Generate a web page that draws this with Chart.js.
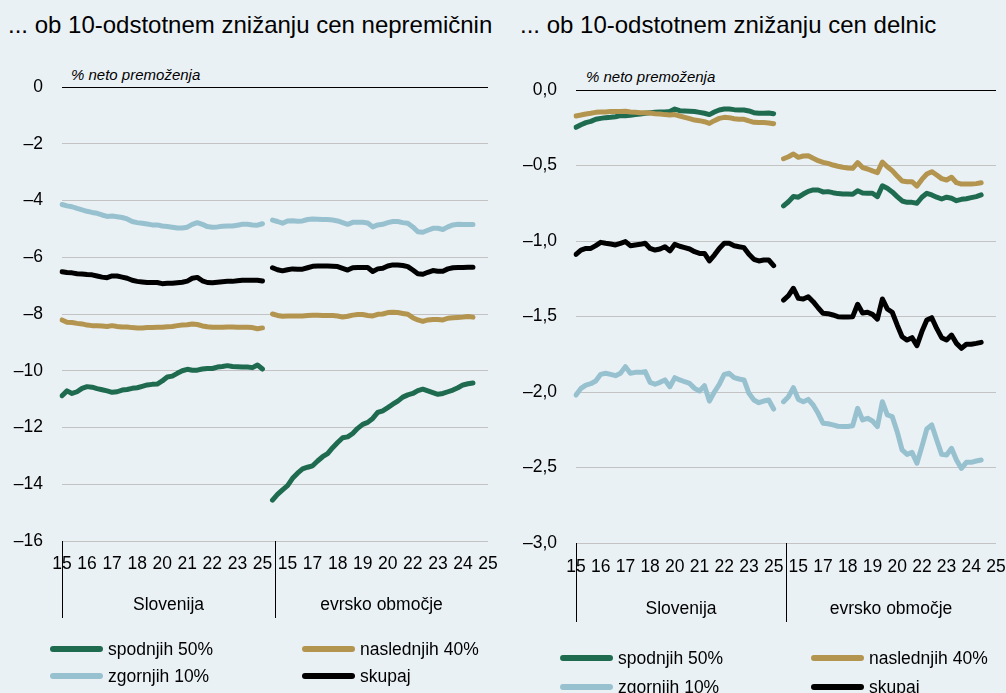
<!DOCTYPE html>
<html lang="sl">
<head>
<meta charset="utf-8">
<title>Učinek znižanja cen na neto premoženje</title>
<script src="https://cdn.jsdelivr.net/npm/chart.js@4.4.1/dist/chart.umd.min.js"></script>
<style>
  html, body { margin: 0; padding: 0; }
  body {
    width: 1006px; height: 693px; position: relative; overflow: hidden;
    background: #eaf1f5; color: #000;
    font-family: "Liberation Sans", Arial, sans-serif;
  }
  .panel { position: absolute; top: 0; }
  .title { position: absolute; top: 11px; font-size: 24px; white-space: nowrap; }
  .unit { position: absolute; font-size: 15px; font-style: italic; white-space: nowrap; }
  .legend-item { position: absolute; height: 22px; display: flex; align-items: center; font-size: 17.5px; white-space: nowrap; }
  .legend-line { width: 53px; height: 6px; border-radius: 3px; margin-right: 5px; }
</style>
</head>
<body>

<div class="title" style="left:8px">... ob 10-odstotnem znižanju cen nepremičnin</div>
<div class="title" style="left:520px">... ob 10-odstotnem znižanju cen delnic</div>
<div class="unit" style="left:71px; top:66px">% neto premoženja</div>
<div class="unit" style="left:586px; top:68px">% neto premoženja</div>

<canvas id="housing-chart" class="panel" style="left:0" width="500" height="640"></canvas>
<canvas id="equity-chart" class="panel" style="left:500px" width="506" height="640"></canvas>

<div id="legend"></div>

<script>
// ---------------------------------------------------------------------------
// Data: quarterly, 2015 Q1 – 2025 Q1, first Slovenia then the euro area.
// Values are % of net wealth.
// ---------------------------------------------------------------------------

const seriesNames = ["spodnjih 50%", "naslednjih 40%", "zgornjih 10%", "skupaj"];
const seriesColors = ["#1f6b50", "#b3954f", "#98c1d0", "#000000"];
const groupNames = ["Slovenija", "evrsko območje"];

// tick labels, one every 5 quarters
const tickLabelsSI = ["15", "16", "17", "18", "20", "21", "22", "23", "25"];
const tickLabelsEA = ["15", "17", "18", "19", "20", "22", "23", "24", "25"];

// --- 10 % fall in house prices ---
const housingSiBottom50 = [-10.88, -10.71, -10.80, -10.74, -10.62, -10.56, -10.58, -10.63, -10.67, -10.71,
  -10.76, -10.74, -10.68, -10.66, -10.62, -10.60, -10.55, -10.50, -10.48, -10.47,
  -10.36, -10.22, -10.19, -10.09, -10.00, -9.95, -9.98, -9.98, -9.94, -9.92,
  -9.92, -9.87, -9.85, -9.82, -9.85, -9.86, -9.87, -9.87, -9.89, -9.80, -9.94];
const housingSiNext40 = [-8.21, -8.29, -8.30, -8.33, -8.35, -8.39, -8.41, -8.41, -8.42, -8.44,
  -8.41, -8.44, -8.46, -8.46, -8.48, -8.49, -8.49, -8.48, -8.48, -8.47,
  -8.47, -8.45, -8.44, -8.41, -8.39, -8.38, -8.35, -8.37, -8.42, -8.45,
  -8.47, -8.47, -8.47, -8.46, -8.46, -8.47, -8.47, -8.47, -8.48, -8.52, -8.49];
const housingSiTop10 = [-4.14, -4.19, -4.22, -4.28, -4.33, -4.38, -4.42, -4.45, -4.51, -4.56,
  -4.55, -4.57, -4.60, -4.65, -4.74, -4.78, -4.80, -4.83, -4.86, -4.86,
  -4.90, -4.92, -4.94, -4.97, -4.97, -4.94, -4.84, -4.78, -4.84, -4.92,
  -4.94, -4.93, -4.91, -4.90, -4.90, -4.87, -4.84, -4.84, -4.86, -4.87, -4.82];
const housingSiTotal = [-6.51, -6.54, -6.55, -6.58, -6.59, -6.61, -6.62, -6.66, -6.70, -6.72,
  -6.66, -6.66, -6.70, -6.74, -6.81, -6.85, -6.87, -6.89, -6.89, -6.89,
  -6.93, -6.92, -6.92, -6.90, -6.88, -6.84, -6.74, -6.71, -6.83, -6.89,
  -6.90, -6.88, -6.86, -6.85, -6.85, -6.83, -6.81, -6.81, -6.81, -6.81, -6.84];

const housingEaBottom50 = [-14.56, -14.36, -14.20, -14.05, -13.79, -13.61, -13.46, -13.40, -13.35, -13.18,
  -13.03, -12.92, -12.71, -12.53, -12.36, -12.33, -12.21, -12.03, -11.89, -11.82,
  -11.68, -11.47, -11.41, -11.30, -11.18, -11.07, -10.93, -10.85, -10.80, -10.70,
  -10.65, -10.71, -10.77, -10.83, -10.80, -10.74, -10.68, -10.60, -10.50, -10.46, -10.43];
const housingEaNext40 = [-8.00, -8.05, -8.08, -8.07, -8.07, -8.07, -8.07, -8.05, -8.04, -8.04,
  -8.05, -8.05, -8.05, -8.07, -8.11, -8.08, -8.04, -8.02, -8.02, -8.05,
  -8.07, -8.01, -8.00, -7.95, -7.94, -7.95, -7.98, -8.01, -8.13, -8.21,
  -8.26, -8.21, -8.19, -8.19, -8.21, -8.15, -8.13, -8.12, -8.11, -8.09, -8.11];
const housingEaTop10 = [-4.69, -4.74, -4.80, -4.72, -4.71, -4.73, -4.72, -4.67, -4.65, -4.66,
  -4.67, -4.67, -4.69, -4.72, -4.78, -4.84, -4.77, -4.77, -4.77, -4.79,
  -4.93, -4.86, -4.84, -4.78, -4.74, -4.74, -4.78, -4.80, -4.93, -5.10,
  -5.12, -5.05, -4.98, -4.98, -5.02, -4.93, -4.86, -4.84, -4.85, -4.85, -4.85];
const housingEaTotal = [-6.37, -6.44, -6.48, -6.44, -6.41, -6.42, -6.42, -6.37, -6.32, -6.31,
  -6.31, -6.31, -6.32, -6.33, -6.39, -6.45, -6.37, -6.36, -6.36, -6.36,
  -6.50, -6.41, -6.39, -6.31, -6.27, -6.27, -6.29, -6.33, -6.45, -6.58,
  -6.60, -6.53, -6.47, -6.49, -6.49, -6.41, -6.37, -6.36, -6.36, -6.35, -6.35];

// --- 10 % fall in equity prices ---
const equitySiBottom50 = [-0.247, -0.230, -0.216, -0.208, -0.194, -0.188, -0.183, -0.181, -0.177, -0.170,
  -0.170, -0.168, -0.163, -0.159, -0.154, -0.150, -0.148, -0.146, -0.146, -0.143,
  -0.126, -0.137, -0.139, -0.141, -0.143, -0.148, -0.154, -0.163, -0.146, -0.132,
  -0.126, -0.126, -0.130, -0.132, -0.132, -0.139, -0.150, -0.154, -0.154, -0.152, -0.157];
const equitySiNext40 = [-0.172, -0.166, -0.159, -0.154, -0.148, -0.146, -0.146, -0.143, -0.143, -0.143,
  -0.141, -0.146, -0.148, -0.150, -0.150, -0.152, -0.157, -0.159, -0.163, -0.166,
  -0.163, -0.172, -0.181, -0.190, -0.199, -0.203, -0.210, -0.221, -0.203, -0.188,
  -0.181, -0.183, -0.190, -0.194, -0.194, -0.205, -0.214, -0.216, -0.216, -0.218, -0.223];
const equitySiTop10 = [-2.020, -1.976, -1.954, -1.945, -1.927, -1.883, -1.876, -1.883, -1.892, -1.876,
  -1.832, -1.876, -1.870, -1.870, -1.865, -1.936, -1.949, -1.936, -1.920, -1.965,
  -1.905, -1.920, -1.932, -1.943, -1.976, -1.993, -1.958, -2.060, -2.000, -1.949,
  -1.883, -1.876, -1.905, -1.914, -1.920, -2.009, -2.053, -2.071, -2.060, -2.053, -2.113];
const equitySiTotal = [-1.088, -1.060, -1.049, -1.049, -1.031, -1.009, -1.015, -1.020, -1.026, -1.015,
  -1.004, -1.031, -1.026, -1.022, -1.015, -1.049, -1.060, -1.053, -1.038, -1.066,
  -1.022, -1.035, -1.044, -1.053, -1.071, -1.082, -1.082, -1.132, -1.093, -1.049,
  -1.015, -1.015, -1.031, -1.038, -1.044, -1.088, -1.121, -1.132, -1.126, -1.126, -1.163];

const equityEaBottom50 = [-0.768, -0.740, -0.706, -0.710, -0.689, -0.671, -0.662, -0.662, -0.675, -0.673,
  -0.680, -0.686, -0.689, -0.689, -0.691, -0.667, -0.682, -0.684, -0.684, -0.706,
  -0.634, -0.651, -0.675, -0.706, -0.735, -0.744, -0.744, -0.750, -0.710, -0.684,
  -0.695, -0.710, -0.722, -0.710, -0.717, -0.733, -0.724, -0.720, -0.713, -0.706, -0.695];
const equityEaNext40 = [-0.455, -0.442, -0.424, -0.446, -0.437, -0.435, -0.452, -0.468, -0.479, -0.486,
  -0.497, -0.505, -0.512, -0.517, -0.519, -0.481, -0.514, -0.523, -0.536, -0.547,
  -0.477, -0.508, -0.534, -0.570, -0.603, -0.607, -0.607, -0.636, -0.592, -0.556,
  -0.541, -0.563, -0.587, -0.596, -0.578, -0.614, -0.623, -0.623, -0.623, -0.620, -0.614];
const equityEaTop10 = [-2.064, -2.031, -1.971, -2.049, -2.064, -2.049, -2.086, -2.141, -2.207, -2.210,
  -2.218, -2.227, -2.229, -2.229, -2.223, -2.108, -2.185, -2.174, -2.192, -2.229,
  -2.064, -2.152, -2.163, -2.263, -2.384, -2.413, -2.400, -2.472, -2.362, -2.245,
  -2.218, -2.318, -2.413, -2.417, -2.373, -2.450, -2.506, -2.466, -2.466, -2.457, -2.450];
const equityEaTotal = [-1.391, -1.362, -1.313, -1.380, -1.384, -1.369, -1.402, -1.442, -1.479, -1.481,
  -1.490, -1.501, -1.503, -1.503, -1.501, -1.419, -1.477, -1.472, -1.486, -1.517,
  -1.384, -1.450, -1.472, -1.556, -1.634, -1.656, -1.640, -1.693, -1.600, -1.523,
  -1.508, -1.579, -1.640, -1.656, -1.623, -1.678, -1.711, -1.684, -1.684, -1.678, -1.671];

// ---------------------------------------------------------------------------
// Category axis: 41 SI quarters, one empty slot, 41 EA quarters, and the
// axis runs on 3 more slots so the last EA label fits (86 slots in all).
// ---------------------------------------------------------------------------

const SI_START = 0;
const EA_START = 42;
const SLOTS = 86;
const GROUP_SPLIT = 42.5;

const xLabels = new Array(SLOTS).fill("");
tickLabelsSI.forEach((t, k) => { xLabels[SI_START + k * 5] = t; });
tickLabelsEA.forEach((t, k) => { xLabels[EA_START + 3 + k * 5] = t; });

function joinRegions(si, ea) {
  const out = new Array(SLOTS).fill(null);
  si.forEach((v, i) => { out[SI_START + i] = v; });
  ea.forEach((v, i) => { out[EA_START + i] = v; });
  return out;
}

const FONT = "'Liberation Sans', Arial, sans-serif";

// draws the Slovenija / evrsko območje brackets under the tick labels
const groupAxisPlugin = {
  id: "groupAxis",
  afterDraw(chart, args, opts) {
    const { ctx, chartArea } = chart;
    const x = chart.scales.x;
    const top = chartArea.bottom;
    ctx.save();
    ctx.strokeStyle = "#000";
    ctx.lineWidth = 1;
    [SI_START, GROUP_SPLIT].forEach(v => {
      const px = Math.round(x.getPixelForValue(v)) + 0.5;
      ctx.beginPath();
      ctx.moveTo(px, top);
      ctx.lineTo(px, top + opts.length);
      ctx.stroke();
    });
    ctx.fillStyle = "#000";
    ctx.font = "17.5px " + FONT;
    ctx.textAlign = "center";
    ctx.textBaseline = "middle";
    const bounds = [SI_START, GROUP_SPLIT, SLOTS - 1];
    groupNames.forEach((name, k) => {
      const px = (x.getPixelForValue(bounds[k]) + x.getPixelForValue(bounds[k + 1])) / 2;
      ctx.fillText(name, px, top + opts.labelOffset);
    });
    ctx.restore();
  },
};

function yLabel(decimals) {
  return v => {
    if (Math.abs(v) < 1e-9) return decimals ? "0,0" : "0";
    return "–" + Math.abs(v).toFixed(decimals).replace(".", ",");
  };
}

function makeChart(canvasId, series, cfg) {
  const datasets = series.map((data, k) => ({
    label: seriesNames[k],
    data,
    borderColor: seriesColors[k],
    borderWidth: 5,
    pointRadius: 0,
    tension: 0,
    spanGaps: false,
    borderJoinStyle: "round",
    borderCapStyle: "round",
    order: k === 1 ? 0 : 1,
  }));

  return new Chart(document.getElementById(canvasId), {
    type: "line",
    data: { labels: xLabels, datasets },
    plugins: [groupAxisPlugin],
    options: {
      responsive: false,
      animation: false,
      events: [],
      layout: { padding: { top: cfg.top, right: cfg.right, left: 0, bottom: 0 } },
      plugins: {
        legend: { display: false },
        tooltip: { enabled: false },
        groupAxis: { length: cfg.bracket, labelOffset: cfg.groupLabel },
      },
      scales: {
        x: {
          // invisible tick marks push the labels down without adding
          // horizontal padding to the plot area
          grid: {
            display: true, drawOnChartArea: false, drawTicks: true,
            tickLength: cfg.tickPad, color: "rgba(0,0,0,0)",
          },
          border: { display: false },
          ticks: {
            autoSkip: false, maxRotation: 0, minRotation: 0,
            padding: 0, color: "#000",
            font: { family: FONT, size: 17.5 },
          },
          afterFit: s => { s.height = cfg.xHeight; },
        },
        y: {
          min: cfg.min, max: 0,
          grid: {
            drawTicks: false,
            lineWidth: 1,
            color: c => (Math.abs(c.tick.value) < 1e-9 ? "#000" : "#c3c3c3"),
          },
          border: { display: false },
          ticks: {
            stepSize: cfg.step, padding: cfg.yPad, color: "#000",
            font: { family: FONT, size: 17.5 },
            callback: yLabel(cfg.decimals),
          },
          afterFit: s => { s.width = cfg.yWidth; },
        },
      },
    },
  });
}

makeChart("housing-chart", [
  joinRegions(housingSiBottom50, housingEaBottom50),
  joinRegions(housingSiNext40, housingEaNext40),
  joinRegions(housingSiTop10, housingEaTop10),
  joinRegions(housingSiTotal, housingEaTotal),
], { min: -16, step: 2, decimals: 0, top: 87, right: 12, yWidth: 62, xHeight: 99, yPad: 19, tickPad: 13, bracket: 77, groupLabel: 64 });

makeChart("equity-chart", [
  joinRegions(equitySiBottom50, equityEaBottom50),
  joinRegions(equitySiNext40, equityEaNext40),
  joinRegions(equitySiTop10, equityEaTop10),
  joinRegions(equitySiTotal, equityEaTotal),
], { min: -3, step: 0.5, decimals: 1, top: 90, right: 10, yWidth: 76, xHeight: 97, yPad: 19, tickPad: 14, bracket: 79, groupLabel: 66 });

// ---------------------------------------------------------------------------
// Legends (two columns under each panel)
// ---------------------------------------------------------------------------

const legendSpots = [
  [[50, 649], [302, 649], [50, 676], [302, 676]],
  [[560, 658], [811, 658], [560, 687], [811, 687]],
];

const legendEl = document.getElementById("legend");
legendEl.innerHTML = legendSpots.map(spots => spots.map(([x, y], k) => `
  <div class="legend-item" style="left:${x}px; top:${y - 11}px">
    <span class="legend-line" style="background:${seriesColors[k]}"></span>${seriesNames[k]}
  </div>`).join("")).join("");
</script>
</body>
</html>
